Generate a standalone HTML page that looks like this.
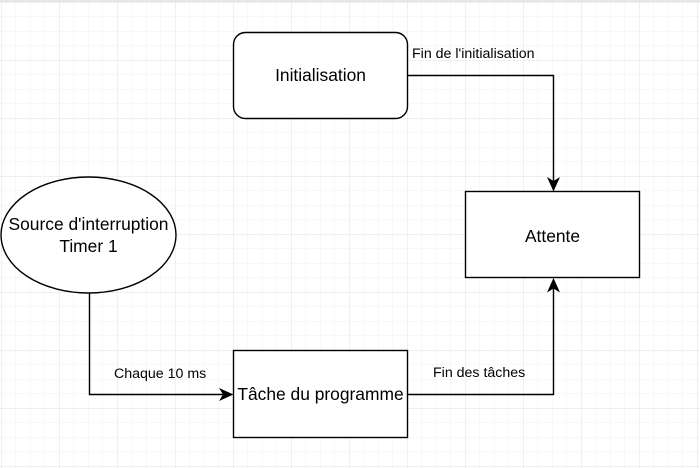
<!DOCTYPE html>
<html><head><meta charset="utf-8"><style>
html,body{margin:0;padding:0;background:#fff;}
svg{display:block;font-family:"Liberation Sans",Arial,sans-serif;}
</style></head><body>
<svg width="700" height="468" viewBox="0 0 700 468" xmlns="http://www.w3.org/2000/svg">
<defs>
<pattern id="minor" x="1" y="2" width="14.5" height="14.5" patternUnits="userSpaceOnUse">
<path d="M0 0H14.5M0 0V14.5" stroke="#f0f0f0" stroke-width="1" fill="none"/>
</pattern>
<pattern id="major" x="1" y="2" width="58" height="58" patternUnits="userSpaceOnUse">
<path d="M0 0H58M0 0V58" stroke="#e2e2e2" stroke-width="1" fill="none"/>
</pattern>
</defs>
<rect width="700" height="468" fill="#fff"/>
<rect width="700" height="468" fill="url(#minor)"/>
<rect width="700" height="468" fill="url(#major)"/>
<rect x="0" y="0" width="700" height="2" fill="#e6e6e6"/>
<g stroke="#000" stroke-width="1.4" fill="#fff">
<rect x="233.5" y="32.5" width="174" height="86" rx="12"/>
<rect x="465.5" y="191.5" width="174" height="86"/>
<rect x="233.5" y="350.5" width="174" height="87"/>
<ellipse cx="88.5" cy="235" rx="87.5" ry="58"/>
</g>
<g stroke="#000" stroke-width="1.4" fill="none">
<path d="M407.5 75.5H553.5V182"/>
<path d="M89.5 293V394.5H225"/>
<path d="M407.5 394.5H553.5V287"/>
</g>
<g fill="#000">
<path d="M553.5 191.5L547 177L553.5 181L560 177Z"/>
<path d="M233.5 394.5L219 388L223 394.5L219 401Z"/>
<path d="M553.5 278L547 292.5L553.5 288.5L560 292.5Z"/>
</g>
<g font-size="17.4" text-anchor="middle" fill="#000">
<text x="320.5" y="81">Initialisation</text>
<text x="552.5" y="242">Attente</text>
<text x="320.5" y="400">Tâche du programme</text>
<text x="88.5" y="230">Source d'interruption</text>
<text x="88.5" y="252">Timer 1</text>
</g>
<g font-size="14.2" fill="#000">
<text x="412" y="58">Fin de l'initialisation</text>
<text x="114" y="378">Chaque 10 ms</text>
<text x="433" y="377">Fin des tâches</text>
</g>
</svg>
</body></html>
